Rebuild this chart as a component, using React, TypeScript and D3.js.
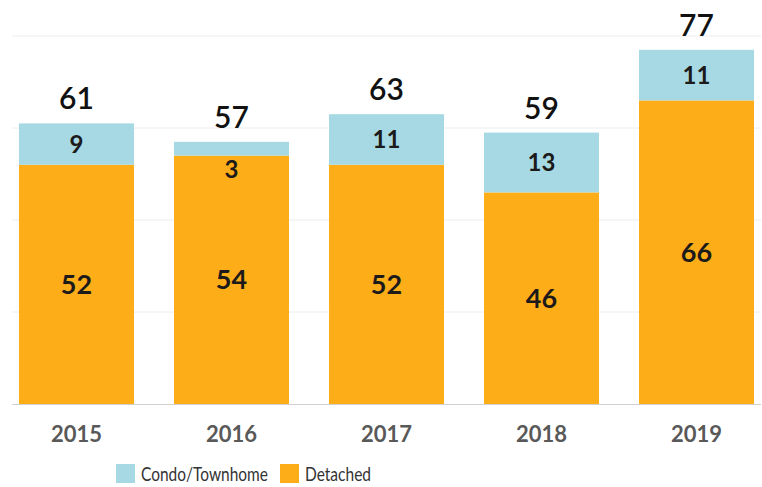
import React, { useEffect, useRef } from 'react';
import * as d3 from 'd3';

const years = ['2015', '2016', '2017', '2018', '2019'];
const condo = [9, 3, 11, 13, 11];
const detached = [52, 54, 52, 46, 66];
const totals = [61, 57, 63, 59, 77];
const yTicks = [0, 20, 40, 60, 80];
const seriesNames = ['Condo/Townhome', 'Detached'];

const App = () => {
  const ref = useRef<SVGSVGElement>(null);

  useEffect(() => {
    if (!ref.current) return;
    const svg = d3.select(ref.current);
    svg.selectAll('*').remove();

    const font = 'Lato, "Open Sans", sans-serif';
    const blue = '#a6d9e3';
    const orange = '#fcad18';

    const x = d3.scaleBand<string>()
      .domain(years)
      .range([12, 761])
      .paddingInner(0.258)
      .paddingOuter(0.045);

    const y = d3.scaleLinear().domain([0, 80]).range([404, 36]);

    // ------- Gridlines -------
    svg.append('g')
      .selectAll('line')
      .data(yTicks.slice(1))
      .enter()
      .append('line')
      .attr('x1', 12)
      .attr('x2', 761)
      .attr('y1', (d) => y(d))
      .attr('y2', (d) => y(d))
      .attr('stroke', '#ececec')
      .attr('stroke-width', 1);

    // ------- Bars -------
    const rows = years.map((yr, i) => ({ yr, condo: condo[i], detached: detached[i], total: totals[i] }));

    svg.selectAll('rect.det')
      .data(rows)
      .enter()
      .append('rect')
      .attr('class', 'det')
      .attr('x', (d) => x(d.yr)!)
      .attr('width', x.bandwidth())
      .attr('y', (d) => y(d.detached))
      .attr('height', (d) => y(0) - y(d.detached))
      .attr('fill', orange);

    svg.selectAll('rect.condo')
      .data(rows)
      .enter()
      .append('rect')
      .attr('class', 'condo')
      .attr('x', (d) => x(d.yr)!)
      .attr('width', x.bandwidth())
      .attr('y', (d) => y(d.detached + d.condo))
      .attr('height', (d) => y(d.detached) - y(d.detached + d.condo))
      .attr('fill', blue);

    // baseline
    svg.append('line')
      .attr('x1', 12)
      .attr('x2', 761)
      .attr('y1', y(0) + 0.5)
      .attr('y2', y(0) + 0.5)
      .attr('stroke', '#d0d0d0')
      .attr('stroke-width', 1.2);

    // ------- Labels -------
    const cx = (d: any) => x(d.yr)! + x.bandwidth() / 2;

    svg.selectAll('text.det')
      .data(rows)
      .enter()
      .append('text')
      .attr('x', cx)
      .attr('y', (d) => (y(0) + y(d.detached)) / 2)
      .attr('dy', '0.35em')
      .attr('text-anchor', 'middle')
      .attr('font-family', font)
      .attr('font-weight', 700)
      .attr('font-size', 27)
      .attr('fill', '#1c1a1a')
      .text((d) => d.detached);

    svg.selectAll('text.condo')
      .data(rows)
      .enter()
      .append('text')
      .attr('x', cx)
      .attr('y', (d) => {
        const top = y(d.detached + d.condo);
        const bot = y(d.detached);
        return bot - top < 25 ? bot + 14 : (top + bot) / 2;
      })
      .attr('dy', '0.35em')
      .attr('text-anchor', 'middle')
      .attr('font-family', font)
      .attr('font-weight', 700)
      .attr('font-size', 24)
      .attr('fill', '#1c1a1a')
      .text((d) => d.condo);

    svg.selectAll('text.total')
      .data(rows)
      .enter()
      .append('text')
      .attr('x', cx)
      .attr('y', (d) => y(d.total) - 14)
      .attr('text-anchor', 'middle')
      .attr('font-family', font)
      .attr('font-weight', 600)
      .attr('font-size', 30)
      .attr('fill', '#111')
      .text((d) => d.total);

    // ------- X axis labels -------
    svg.selectAll('text.year')
      .data(years)
      .enter()
      .append('text')
      .attr('x', (d) => x(d)! + x.bandwidth() / 2)
      .attr('y', 442)
      .attr('text-anchor', 'middle')
      .attr('font-family', font)
      .attr('font-weight', 700)
      .attr('font-size', 22)
      .attr('fill', '#595959')
      .text((d) => d);

    // ------- Legend -------
    const legend = svg.append('g').attr('transform', 'translate(116,464)');
    const colors = [blue, orange];
    const offsets = [0, 164];
    const widths = [127, 66];
    seriesNames.forEach((name, i) => {
      legend.append('rect')
        .attr('x', offsets[i])
        .attr('y', 0)
        .attr('width', 19)
        .attr('height', 19)
        .attr('fill', colors[i]);
      legend.append('text')
        .attr('x', offsets[i] + 25)
        .attr('y', 17)
        .attr('font-family', font)
        .attr('font-size', 20)
        .attr('textLength', widths[i])
        .attr('lengthAdjust', 'spacingAndGlyphs')
        .attr('fill', '#333')
        .text(name);
    });
  }, []);

  return (
    <svg
      ref={ref}
      width={762}
      height={487}
      viewBox="0 0 762 487"
      style={{ position: 'absolute', left: 0, top: 0, background: '#fff' }}
    />
  );
};

export default App;
